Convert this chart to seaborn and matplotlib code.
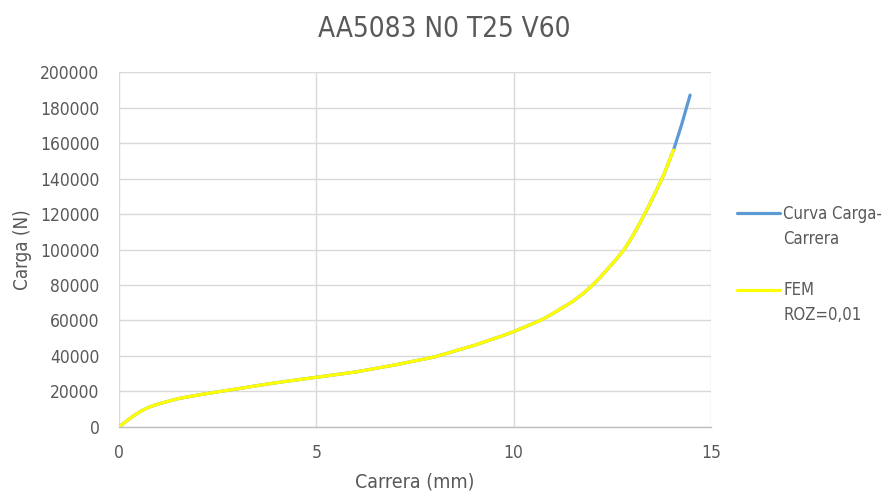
import matplotlib
matplotlib.use("Agg")
import matplotlib.pyplot as plt
from matplotlib.legend_handler import HandlerLine2D
import numpy as np
import seaborn as sns
import pandas as pd

# Experimental load-stroke curve
carrera_exp = [0, 0.2, 0.4, 0.6, 0.8, 1.0, 1.5, 2.0, 2.5, 3.0, 3.5, 4.0, 4.5, 5.0,
               6.0, 7.0, 8.0, 9.0, 9.65, 10.0, 10.7, 11.0, 11.5, 11.75, 12.0, 12.2,
               12.4, 12.6, 12.8, 13.0, 13.2, 13.4, 13.6, 13.8, 14.05, 14.25, 14.47]
carga_exp = [0, 3500, 6800, 9500, 11500, 13000, 16000, 18000, 19800, 21500, 23300,
             25000, 26500, 28000, 31000, 35000, 39500, 46000, 50900, 53700, 60300,
             64000, 70800, 75000, 80000, 84500, 89500, 94500, 100000, 107000,
             115000, 123500, 132500, 142000, 156000, 170000, 187000]

# FEM simulation, friction 0.01
carrera_fem = [0, 0.2, 0.4, 0.6, 0.8, 1.0, 1.5, 2.0, 2.5, 3.0, 3.5, 4.0, 4.5, 5.0,
               6.0, 7.0, 8.0, 9.0, 9.65, 10.0, 10.7, 11.0, 11.5, 11.75, 12.0, 12.2,
               12.4, 12.6, 12.8, 13.0, 13.2, 13.4, 13.6, 13.8, 14.05]
carga_fem = [0, 3500, 6800, 9500, 11500, 13000, 16000, 18000, 19800, 21500, 23300,
             25000, 26500, 28000, 31000, 35000, 39500, 46000, 50900, 53700, 60300,
             64000, 70800, 75000, 80000, 84500, 89500, 94500, 100000, 107000,
             115000, 123500, 132500, 142000, 156000]

x_ticks = [0, 5, 10, 15]
y_ticks = list(range(0, 200001, 20000))

sns.set_theme(style="white")
plt.rcParams["font.family"] = ["DejaVu Sans"]
plt.rcParams["font.stretch"] = "condensed"

text_col = "#595959"
grid_col = "#d9d9d9"
leg_size = 12
leg_linespacing = 1.5


class FirstLineHandler(HandlerLine2D):
    """Place the legend line level with the first line of a two-line label."""

    def create_artists(self, legend, orig_handle, xdescent, ydescent, width,
                       height, fontsize, trans):
        artists = super().create_artists(legend, orig_handle, xdescent, ydescent,
                                          width, height, fontsize, trans)
        shift = 0.5 * leg_linespacing * fontsize * 1.17
        for a in artists:
            a.set_ydata(np.asarray(a.get_ydata()) + shift)
        return artists


fig = plt.figure(figsize=(8.88, 4.95), dpi=100)
ax = fig.add_axes([0.134, 0.1374, 0.6667, 0.7171])

df_exp = pd.DataFrame({"Carrera": carrera_exp, "Carga": carga_exp})
df_fem = pd.DataFrame({"Carrera": carrera_fem, "Carga": carga_fem})

sns.lineplot(data=df_exp, x="Carrera", y="Carga", sort=False, ax=ax,
             color="#5B9BD5", linewidth=2.3, label="Curva Carga-\nCarrera")
sns.lineplot(data=df_fem, x="Carrera", y="Carga", sort=False, ax=ax,
             color="#FFFF00", linewidth=2.3, label="FEM\nROZ=0,01")

ax.set_xlim(0, 15)
ax.set_ylim(0, 200000)
ax.set_xticks(x_ticks)
ax.set_yticks(y_ticks)
ax.set_xticklabels([str(t) for t in x_ticks])
ax.set_yticklabels([str(t) for t in y_ticks])
ax.grid(True, color=grid_col, linewidth=1.0)
ax.set_axisbelow(True)
for side in ["top", "right", "left"]:
    ax.spines[side].set_visible(False)
ax.spines["bottom"].set_color("#bfbfbf")
ax.spines["bottom"].set_linewidth(1.0)

ax.tick_params(axis="both", length=0, labelsize=12.5, labelcolor=text_col)
ax.tick_params(axis="x", pad=12)
ax.tick_params(axis="y", pad=14)

ax.set_xlabel("Carrera (mm)", fontsize=14, color=text_col, labelpad=8)
ax.set_ylabel("Carga (N)", fontsize=13.5, color=text_col, labelpad=6)
fig.suptitle("AA5083 N0 T25 V60", fontsize=20, color=text_col, x=0.5, y=0.97)

handles, labels = ax.get_legend_handles_labels()
leg = ax.legend(handles, labels, loc="upper left", bbox_to_anchor=(0.822, 0.599),
                bbox_transform=fig.transFigure, frameon=False,
                fontsize=leg_size, handlelength=2.6, handletextpad=0.2,
                labelspacing=2.0, borderaxespad=0,
                handler_map={h: FirstLineHandler() for h in handles})
for t in leg.get_texts():
    t.set_color(text_col)
    t.set_linespacing(leg_linespacing)

fig.savefig("out.png", dpi=100)
